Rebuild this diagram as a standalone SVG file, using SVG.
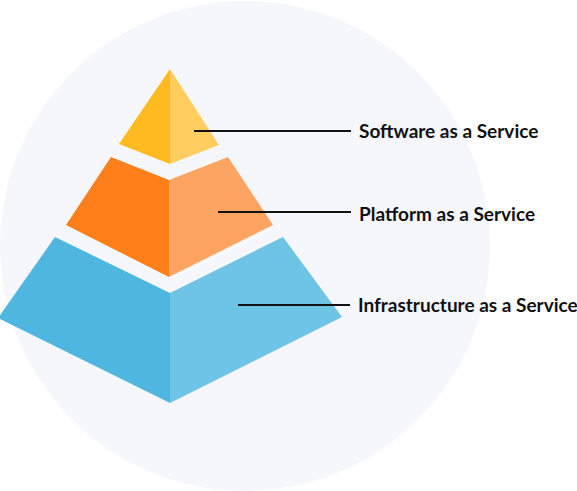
<svg xmlns="http://www.w3.org/2000/svg" width="577" height="491" viewBox="0 0 577 491">
<style>
.lbl{font-family:Lato,"Open Sans","Liberation Sans",sans-serif;font-weight:bold;font-size:19px;fill:#111}
.conn{stroke:#111;stroke-width:2;fill:none}
</style>
<rect width="577" height="491" fill="#ffffff"/>
<circle cx="245" cy="246" r="245" fill="#f6f7fc"/>
<g id="saas">
<polygon points="170,69 119,144 170,164" fill="#ffba1f"/>
<polygon points="170,69 219,145 170,164" fill="#ffcd60"/>
</g>
<g id="paas">
<polygon points="111,157 169,180 169,277 66,225" fill="#ff7f1b"/>
<polygon points="228,157 169,180 169,277 273,225" fill="#fca563"/>
</g>
<g id="iaas">
<polygon points="55,237 170,293 170,403 -2,318" fill="#4fb7df"/>
<polygon points="283,237 170,293 170,403 342,317" fill="#6ec4e4"/>
</g>
<g id="connectors">
<line class="conn" x1="194" y1="131" x2="351" y2="131"/>
<line class="conn" x1="218" y1="212" x2="351" y2="212"/>
<line class="conn" x1="238" y1="305" x2="350" y2="305"/>
</g>
<g id="labels">
<text class="lbl" x="359" y="138">Software as a Service</text>
<text class="lbl" x="359" y="221">Platform as a Service</text>
<text class="lbl" x="358" y="312">Infrastructure as a Service</text>
</g>
</svg>
